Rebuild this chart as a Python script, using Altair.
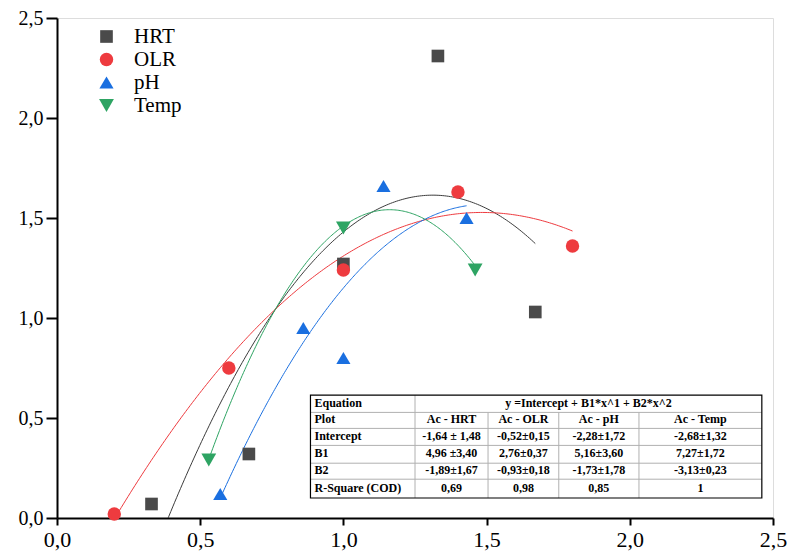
import altair as alt
import pandas as pd
import numpy as np

# ---------------- data ----------------
series = ["HRT", "OLR", "pH", "Temp"]
point_colors = ["#4a4a4a", "#ee3b3f", "#1a6fe0", "#2ea463"]
line_colors = ["#3c3c3c", "#ee3b3f", "#1a6fe0", "#2ea463"]
shapes = ["square", "circle", "triangle-up", "triangle-down"]
sizes = [160, 220, 250, 250]

hrt_x = [0.33, 0.67, 1.00, 1.33, 1.67]
hrt_y = [0.07, 0.32, 1.27, 2.31, 1.03]
olr_x = [0.20, 0.60, 1.00, 1.40, 1.80]
olr_y = [0.02, 0.75, 1.24, 1.63, 1.36]
ph_x = [0.57, 0.86, 1.00, 1.14, 1.43]
ph_y = [0.12, 0.95, 0.80, 1.66, 1.50]
temp_x = [0.53, 1.00, 1.46]
temp_y = [0.29, 1.45, 1.24]

# fitted quadratic coefficients (from the table)
intercept = [-1.64, -0.52, -2.28, -2.68]
b1 = [4.96, 2.76, 5.16, 7.27]
b2 = [-1.89, -0.93, -1.73, -3.13]

# table texts
equation_label = "Equation"
equation_text = "y =Intercept + B1*x^1 + B2*x^2"
row_labels = ["Plot", "Intercept", "B1", "B2", "R-Square (COD)"]
plot_txt = ["Ac - HRT", "Ac - OLR", "Ac - pH", "Ac - Temp"]
intercept_txt = ["-1,64 ± 1,48", "-0,52±0,15", "-2,28±1,72", "-2,68±1,32"]
b1_txt = ["4,96 ±3,40", "2,76±0,37", "5,16±3,60", "7,27±1,72"]
b2_txt = ["-1,89±1,67", "-0,93±0,18", "-1,73±1,78", "-3,13±0,23"]
r2_txt = ["0,69", "0,98", "0,85", "1"]

tick_values = [0.0, 0.5, 1.0, 1.5, 2.0, 2.5]

# ---------------- layout (data units) ----------------
col_edges = [0.885, 1.250, 1.505, 1.752, 2.032, 2.461]
row_edges = [0.614, 0.528, 0.448, 0.363, 0.274, 0.194, 0.100]
pad_x = 0.014

FONT = "'Liberation Serif', 'Times New Roman', Times, 'DejaVu Serif', serif"

xs_all = [hrt_x, olr_x, ph_x, temp_x]
ys_all = [hrt_y, olr_y, ph_y, temp_y]

pts = pd.DataFrame(
    [{"series": s, "x": x, "y": y}
     for s, xx, yy in zip(series, xs_all, ys_all) for x, y in zip(xx, yy)]
)

xscale = alt.Scale(domain=[0, 2.5], nice=False, zero=False)
yscale = alt.Scale(domain=[0, 2.5], nice=False, zero=False)

label_expr = "replace(format(datum.value, '.1f'), '.', ',')"
xaxis = alt.Axis(values=tick_values, labelExpr=label_expr, title=None, grid=False,
                 labelFont=FONT, labelFontSize=22, labelColor="black",
                 domainColor="black", domainWidth=2, tickColor="black",
                 tickWidth=2, tickSize=7, labelPadding=4, labelFlush=False)
yaxis = alt.Axis(values=tick_values, labelExpr=label_expr, title=None, grid=False,
                 labelFont=FONT, labelFontSize=20, labelColor="black",
                 domainColor="black", domainWidth=2, tickColor="black",
                 tickWidth=2, tickSize=11, labelPadding=3, labelFlush=False)

legend = alt.Legend(orient="none", legendX=39, legendY=8, title=None,
                    labelFont=FONT, labelFontSize=21, labelColor="black",
                    symbolSize=180, labelOffset=17, rowPadding=1,
                    symbolStrokeWidth=0, symbolOpacity=1)

layers = []

# fitted curves
for i, s in enumerate(series):
    xx = np.linspace(min(xs_all[i]), max(xs_all[i]), 200)
    yy = intercept[i] + b1[i] * xx + b2[i] * xx ** 2
    df = pd.DataFrame({"x": xx, "y": yy})
    layers.append(
        alt.Chart(df).mark_line(clip=True, strokeWidth=1, color=line_colors[i]).encode(
            x=alt.X("x:Q", scale=xscale, axis=xaxis),
            y=alt.Y("y:Q", scale=yscale, axis=yaxis),
        )
    )

# points
layers.append(
    alt.Chart(pts).mark_point(filled=True, opacity=1, strokeWidth=0).encode(
        x=alt.X("x:Q", scale=xscale, axis=xaxis),
        y=alt.Y("y:Q", scale=yscale, axis=yaxis),
        color=alt.Color("series:N", scale=alt.Scale(domain=series, range=point_colors),
                        legend=legend, sort=series),
        shape=alt.Shape("series:N", scale=alt.Scale(domain=series, range=shapes),
                        legend=legend, sort=series),
        size=alt.Size("series:N", scale=alt.Scale(domain=series, range=sizes), legend=None),
        order=alt.Order("o:Q"),
    ).transform_calculate(o="indexof(['HRT','OLR','pH','Temp'], datum.series)")
)

# ---------------- table ----------------
box = pd.DataFrame([{"x": col_edges[0], "x2": col_edges[-1], "y": row_edges[0], "y2": row_edges[-1]}])
layers.append(
    alt.Chart(box).mark_rect(fill="white", stroke=None).encode(
        x="x:Q", x2="x2:Q", y="y:Q", y2="y2:Q")
)

hlines = pd.DataFrame([{"x": col_edges[0], "x2": col_edges[-1], "y": r} for r in row_edges[1:-1]])
vlines = pd.DataFrame(
    [{"x": col_edges[1], "y": row_edges[0], "y2": row_edges[-1]}] +
    [{"x": c, "y": row_edges[1], "y2": row_edges[-1]} for c in col_edges[2:-1]]
)
layers.append(alt.Chart(hlines).mark_rule(color="#b0b0b0", strokeWidth=1).encode(
    x="x:Q", x2="x2:Q", y="y:Q"))
layers.append(alt.Chart(vlines).mark_rule(color="#b0b0b0", strokeWidth=1).encode(
    x="x:Q", y="y:Q", y2="y2:Q"))
layers.append(
    alt.Chart(box).mark_rect(fill=None, stroke="black", strokeWidth=1.2).encode(
        x="x:Q", x2="x2:Q", y="y:Q", y2="y2:Q")
)

cells = []
row_mid = [(row_edges[k] + row_edges[k + 1]) / 2 for k in range(len(row_edges) - 1)]
cells.append({"x": col_edges[0] + pad_x, "y": row_mid[0], "t": equation_label, "a": "left"})
cells.append({"x": (col_edges[1] + col_edges[-1]) / 2, "y": row_mid[0], "t": equation_text, "a": "center"})
body = [plot_txt, intercept_txt, b1_txt, b2_txt, r2_txt]
for r, (lab, vals) in enumerate(zip(row_labels, body)):
    cells.append({"x": col_edges[0] + pad_x, "y": row_mid[r + 1], "t": lab, "a": "left"})
    for c, v in enumerate(vals):
        cells.append({"x": (col_edges[c + 1] + col_edges[c + 2]) / 2, "y": row_mid[r + 1], "t": v, "a": "center"})
cells = pd.DataFrame(cells)

for a in ["left", "center"]:
    layers.append(
        alt.Chart(cells[cells["a"] == a]).mark_text(
            align=a, baseline="middle", font=FONT, fontSize=12, fontWeight="bold",
            color="black", dy=-1).encode(x="x:Q", y="y:Q", text="t:N")
    )

chart = alt.layer(*layers).properties(
    width=716, height=500,
    autosize=alt.AutoSizeParams(type="none"),
    padding={"left": 49, "top": 10, "right": 17, "bottom": 33},
).configure_view(stroke=None).configure(background="white")

chart.save("out.html", embed_options={"renderer": "svg", "actions": False})
